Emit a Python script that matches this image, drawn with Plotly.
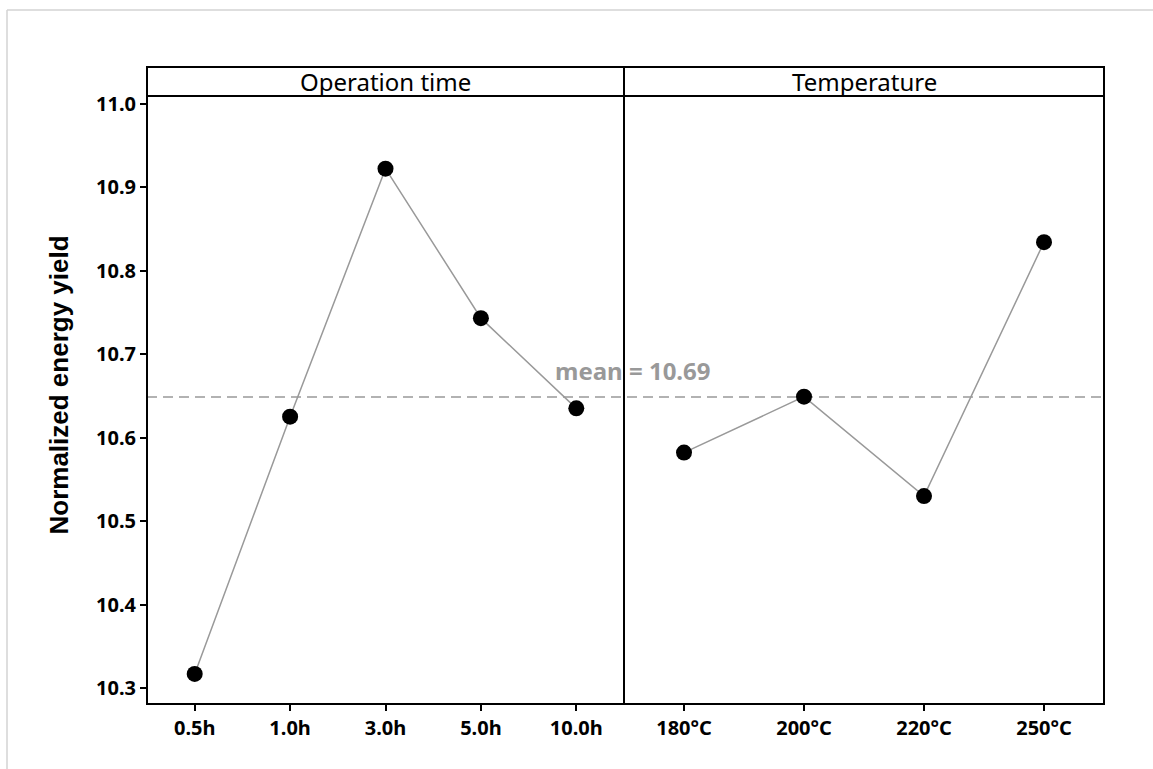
import plotly.graph_objects as go

# Main-effects data: mean normalized energy yield per factor level
time_levels = ["0.5h", "1.0h", "3.0h", "5.0h", "10.0h"]
time_yield = [10.317, 10.625, 10.922, 10.743, 10.635]

temp_levels = ["180°C", "200°C", "220°C", "250°C"]
temp_yield = [10.582, 10.649, 10.530, 10.834]

panel_titles = ["Operation time", "Temperature"]
y_tick_values = [10.3, 10.4, 10.5, 10.6, 10.7, 10.8, 10.9, 11.0]
y_title = "Normalized energy yield"
mean_label = "mean = 10.69"

all_yield = time_yield + temp_yield
grand_mean = sum(all_yield) / len(all_yield)

# Layout geometry (paper fractions)
W, H = 1153, 769
ML, MR, MT, MB = 147, 49, 67, 65
plot_w = W - ML - MR
plot_h = H - MT - MB
split = 477 / plot_w            # boundary between the two panels
y_top = (plot_h - 29) / plot_h  # top of data area, header strip above

line_col = "#999999"
tick_font = dict(family="Noto Sans", size=20, color="black", weight="bold")

fig = go.Figure()

fig.add_trace(go.Scatter(
    x=time_levels, y=time_yield, xaxis="x", yaxis="y",
    mode="lines+markers",
    line=dict(color=line_col, width=1.5),
    marker=dict(color="black", size=16),
    showlegend=False, hoverinfo="x+y",
))
fig.add_trace(go.Scatter(
    x=temp_levels, y=temp_yield, xaxis="x2", yaxis="y2",
    mode="lines+markers",
    line=dict(color=line_col, width=1.5),
    marker=dict(color="black", size=16),
    showlegend=False, hoverinfo="x+y",
))

shapes = [
    # frame of the whole panel area
    dict(type="rect", xref="paper", yref="paper", x0=0, x1=1, y0=0, y1=1,
         line=dict(color="black", width=2), layer="above"),
    # bottom of the header strip
    dict(type="line", xref="paper", yref="paper", x0=0, x1=1, y0=y_top, y1=y_top,
         line=dict(color="black", width=2), layer="above"),
    # divider between panels
    dict(type="line", xref="paper", yref="paper", x0=split, x1=split, y0=0, y1=1,
         line=dict(color="black", width=2), layer="above"),
    # reference line at the grand mean
    dict(type="line", xref="paper", yref="y", x0=0, x1=1, y0=grand_mean, y1=grand_mean,
         line=dict(color=line_col, width=1.5, dash="10px,6px"), layer="below"),
    # light outer border of the image
    dict(type="line", xref="paper", yref="paper",
         x0=(7 - ML) / plot_w, x1=(W + 5 - ML) / plot_w,
         y0=1 + (MT - 10) / plot_h, y1=1 + (MT - 10) / plot_h,
         line=dict(color="#d3d3d3", width=1.5)),
    dict(type="line", xref="paper", yref="paper",
         x0=(7 - ML) / plot_w, x1=(7 - ML) / plot_w,
         y0=1 + (MT - 10) / plot_h, y1=-(MB + 5) / plot_h,
         line=dict(color="#d3d3d3", width=1.5)),
]

annotations = [
    dict(text=panel_titles[0], xref="paper", yref="paper",
         x=split / 2, y=(y_top + 1) / 2, showarrow=False,
         font=dict(family="Noto Sans", size=24, color="black"),
         xanchor="center", yanchor="middle"),
    dict(text=panel_titles[1], xref="paper", yref="paper",
         x=(split + 1) / 2, y=(y_top + 1) / 2, showarrow=False,
         font=dict(family="Noto Sans", size=24, color="black"),
         xanchor="center", yanchor="middle"),
    dict(text=mean_label, xref="paper", yref="y",
         x=(633 - ML) / plot_w, y=grand_mean, yshift=27, showarrow=False,
         font=dict(family="Noto Sans", size=24, color=line_col, weight="bold"),
         xanchor="center", yanchor="middle"),
    dict(text=y_title, xref="paper", yref="paper",
         x=(58 - ML) / plot_w, y=0.5, showarrow=False, textangle=-90,
         font=dict(family="Liberation Sans", size=26, color="black", weight="bold"),
         xanchor="center", yanchor="middle"),
]

axis_common = dict(
    type="category", showgrid=False, zeroline=False, showline=False,
    ticks="outside", ticklen=6, tickwidth=1.5, tickcolor="black",
    tickfont=tick_font,
)

fig.update_layout(
    width=W, height=H,
    margin=dict(l=ML, r=MR, t=MT, b=MB),
    paper_bgcolor="white", plot_bgcolor="white",
    xaxis=dict(domain=[0, split], range=[-0.5, len(time_levels) - 0.5],
               anchor="y", **axis_common),
    xaxis2=dict(domain=[split, 1], range=[-0.5, len(temp_levels) - 0.5],
                anchor="y2", **axis_common),
    yaxis=dict(domain=[0, y_top], range=[10.281, 11.009], anchor="x",
               tickvals=y_tick_values,
               ticktext=[f"{v:.1f}" for v in y_tick_values],
               ticks="outside", ticklen=6, tickwidth=1.5, tickcolor="black",
               tickfont=tick_font, showgrid=False, zeroline=False, showline=False),
    yaxis2=dict(domain=[0, y_top], matches="y", anchor="x2",
                showticklabels=False, ticks="", showgrid=False,
                zeroline=False, showline=False),
    shapes=shapes,
    annotations=annotations,
)

fig.write_html("out.html")
